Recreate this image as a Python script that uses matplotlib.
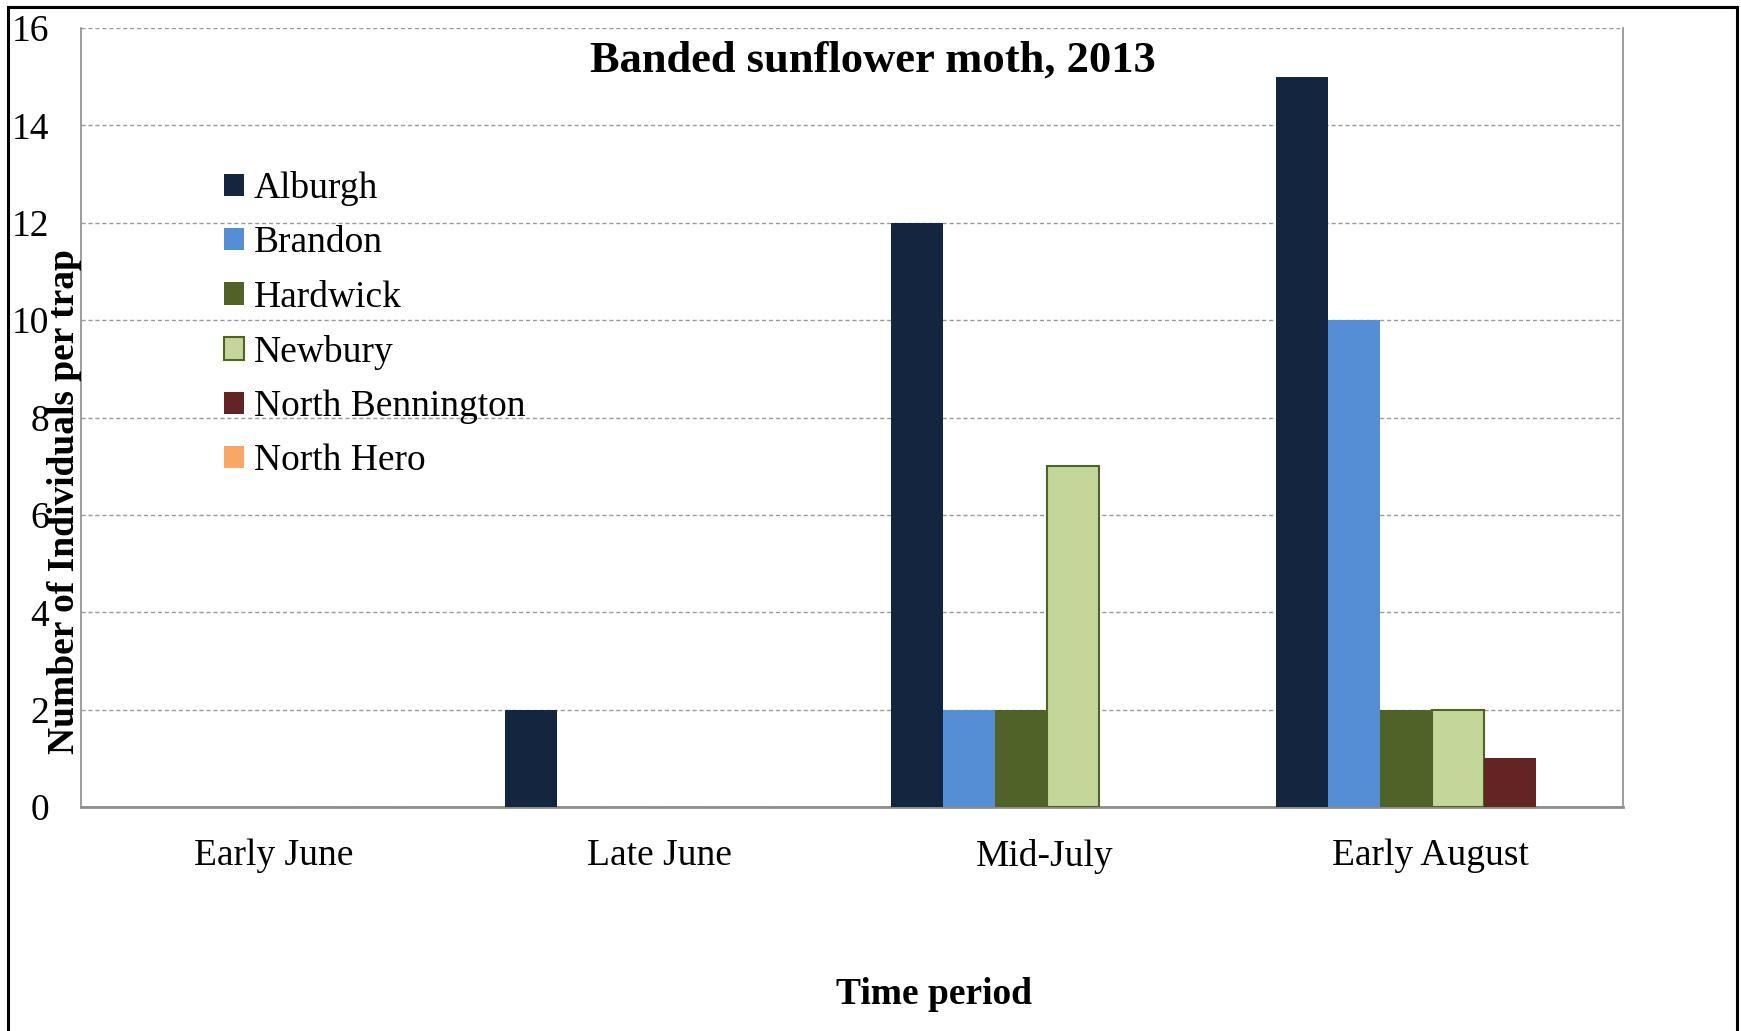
import numpy as np
import matplotlib.pyplot as plt
from matplotlib.patches import Patch, Rectangle

# ---------------- Data ----------------
PERIODS = ["Early June", "Late June", "Mid-July", "Early August"]
SITES = ["Alburgh", "Brandon", "Hardwick", "Newbury",
         "North Bennington", "North Hero"]

alburgh = [0, 2, 12, 15]
brandon = [0, 0, 2, 10]
hardwick = [0, 0, 2, 2]
newbury = [0, 0, 7, 2]
north_bennington = [0, 0, 0, 1]
north_hero = [0, 0, 0, 0]

VALUES = [alburgh, brandon, hardwick, newbury, north_bennington, north_hero]

# ---------------- Style ----------------
FILL = ["#14253f", "#558ed5", "#4f6228", "#c4d79b", "#632523", "#f8a766"]
EDGE = ["#14253f", "#558ed5", "#4f6228", "#4f6228", "#632523", "#f79646"]
FS = 27

plt.rcParams["font.family"] = ["Liberation Serif", "DejaVu Serif"]

W, H = 1741, 1031
fig = plt.figure(figsize=(W / 100, H / 100), dpi=100)
ax = fig.add_axes([81 / W, 1 - 807 / H, (1623 - 81) / W, (807 - 28) / H])

x = np.arange(len(PERIODS))
bar_w = 0.135
n = len(SITES)
for i, (site, vals) in enumerate(zip(SITES, VALUES)):
    # only Newbury has an outline; skip it on empty bars
    lw = [1.5 if (site == "Newbury" and v > 0) else 0 for v in vals]
    ax.bar(x + 0.005 + (i - (n - 1) / 2) * bar_w, vals, width=bar_w,
           color=FILL[i], edgecolor=EDGE[i], linewidth=lw, zorder=3)

ax.set_xlim(-0.5, len(PERIODS) - 0.5)
ax.set_ylim(0, 16)
ax.set_yticks(np.arange(0, 17, 2))
ax.set_xticks(x)
ax.set_xticklabels(PERIODS)
ax.tick_params(axis="y", length=0, pad=23, labelsize=FS)
ax.tick_params(axis="x", length=0, pad=23, labelsize=FS)

ax.yaxis.grid(True, color="#9a9a9a", linestyle=(0, (3, 2)), linewidth=1)
ax.set_axisbelow(True)

for side in ["left", "right"]:
    ax.spines[side].set_color("#8c8c8c")
    ax.spines[side].set_linewidth(1.2)
ax.spines["bottom"].set_color("#8c8c8c")
ax.spines["bottom"].set_linewidth(2)
ax.spines["top"].set_visible(False)

# Title, axis labels
fig.text(873 / W, 1 - 72 / H, "Banded sunflower moth, 2013",
         ha="center", va="baseline", fontsize=32, fontweight="bold")
fig.text(934 / W, 1 - 994 / H, "Time period",
         ha="center", va="center", fontsize=FS, fontweight="bold")
fig.text(65 / W, 1 - 502 / H, "Number of Individuals per trap",
         ha="center", va="center", rotation=90, fontsize=FS,
         fontweight="bold")

# Legend
handles = [Patch(facecolor=FILL[i], edgecolor=EDGE[i],
                 linewidth=1.5 if SITES[i] == "Newbury" else 0)
           for i in range(n)]
fig.legend(handles, SITES, loc="upper left",
           bbox_to_anchor=(224 / W, 1 - 171 / H),
           frameon=False, fontsize=FS, borderpad=0, borderaxespad=0,
           handlelength=0.54, handleheight=0.54, handletextpad=0.25,
           labelspacing=0.53)

# Outer frame
fig.add_artist(Rectangle((8 / W, -0.05), (1737 - 8) / W, 1.05 - 7 / H,
                         transform=fig.transFigure, fill=False,
                         edgecolor="black", linewidth=2.2))

fig.savefig("out.png", dpi=100)
